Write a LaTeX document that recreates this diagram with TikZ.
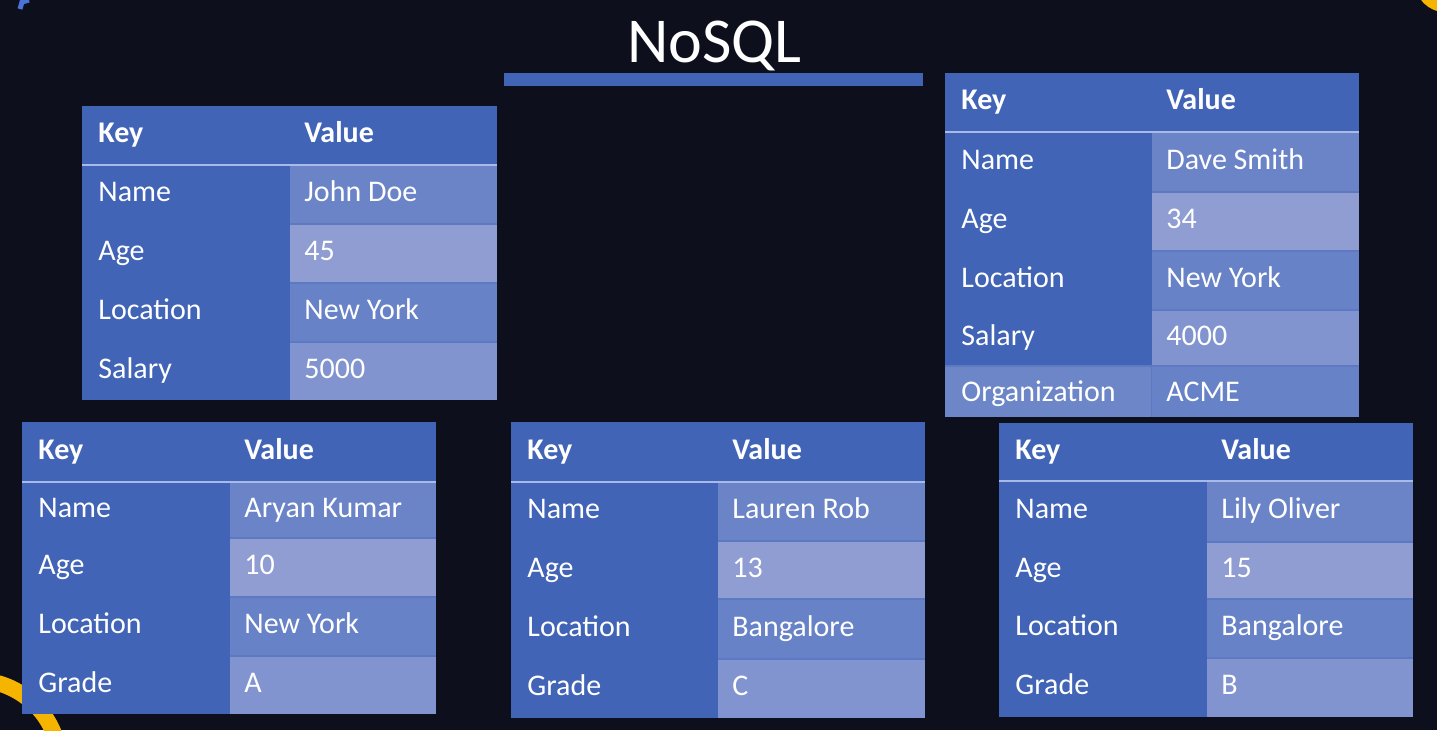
\documentclass[tikz,border=0pt]{standalone}
\usepackage{fontspec}
\setmainfont{Carlito}
\definecolor{bgc}{HTML}{0D0F1C}
\definecolor{hdrc}{HTML}{4264B6}
\definecolor{keyc}{HTML}{4164B6}
\definecolor{valA}{HTML}{6B84C8}
\definecolor{valB}{HTML}{8F9DD3}
\definecolor{valC}{HTML}{6882C7}
\definecolor{valD}{HTML}{8194CF}
\definecolor{orgk}{HTML}{6D86C8}
\definecolor{hlinec}{HTML}{A8BBE8}
\definecolor{sepc}{HTML}{5C79C1}
\definecolor{yel}{HTML}{F4B400}
\definecolor{markc}{HTML}{4A72D8}
\tikzset{
  celltext/.style={anchor=base west, inner sep=0pt, text=white, font=\fontsize{15}{18}\selectfont},
  hdtext/.style={celltext, font=\fontsize{15}{18}\selectfont\bfseries},
  titletext/.style={anchor=base, inner sep=0pt, text=white, font=\fontsize{32}{38}\selectfont},
  hline/.style={draw=hlinec, line width=1.3pt},
  sepline/.style={draw=sepc, line width=0.6pt}
}
\def\kvdy{7}
% #1 name, #2 x0, #3 xs, #4 x1, #5 ytop, #6 yhead-bottom, #7 ybottom
\newcommand\kvframe[7]{%
  \fill[hdrc] (#2,#5) rectangle (#4,#6);
  \fill[keyc] (#2,#6) rectangle (#3,#7);
  \node[hdtext] (#1hk) at ({#2+16},{(#5+#6)/2+7}) {Key};
  \node[hdtext] (#1hv) at ({#3+14},{(#5+#6)/2+7}) {Value};
}
% #1 name, #2 x0, #3 xs, #4 x1, #5 ytop, #6 ybot, #7 key, #8 value, #9 fill
\newcommand\kvrow[9]{%
  \fill[#9] (#3,#5) rectangle (#4,#6);
  \draw[sepline] (#3,#5) -- (#4,#5);
  \node[celltext] (#1k) at ({#2+16},{(#5+#6)/2+\kvdy}) {#7};
  \node[celltext] (#1v) at ({#3+14},{(#5+#6)/2+\kvdy}) {#8};
}
\begin{document}
\begin{tikzpicture}[x=0.5pt,y=-0.5pt]
\fill[bgc] (0,0) rectangle (1437,730);
\useasboundingbox (0,0) rectangle (1437,730);
% corner decorations
\draw[yel, line width=8pt] (-25,765) circle (85);
\fill[yel] (1445,-18) circle (30);
\draw[markc, line width=2.5pt] (20,9) -- (22,2) -- (29,0);
% title
\node[titletext] (ttl) at (714.5,62) {NoSQL};
\fill[hdrc] (504,73) rectangle (923,86);

% table 1
\kvframe{a}{82}{290}{497}{106}{165}{400}
\kvrow{a1}{82}{290}{497}{165}{224}{Name}{John Doe}{valA}
\kvrow{a2}{82}{290}{497}{224}{283}{Age}{45}{valB}
\kvrow{a3}{82}{290}{497}{283}{342}{Location}{New York}{valC}
\kvrow{a4}{82}{290}{497}{342}{400}{Salary}{5000}{valD}
\draw[hline] (82,165) -- (497,165);

% table 2
\kvframe{b}{945}{1152}{1359}{73}{132}{417}
\kvrow{b1}{945}{1152}{1359}{132}{192}{Name}{Dave Smith}{valA}
\kvrow{b2}{945}{1152}{1359}{192}{251}{Age}{34}{valB}
\kvrow{b3}{945}{1152}{1359}{251}{310}{Location}{New York}{valC}
\kvrow{b4}{945}{1152}{1359}{310}{366}{Salary}{4000}{valD}
\fill[orgk] (945,366) rectangle (1152,417);
\draw[sepline] (945,366) -- (1152,366);
\draw[sepline] (1152,366) -- (1152,417);
\def\kvdy{10}
\kvrow{b5}{945}{1152}{1359}{366}{417}{Organization}{ACME}{valC}
\def\kvdy{7}
\draw[hline] (945,132) -- (1359,132);

% table 3
\kvframe{c}{22}{230}{436}{422}{482}{714}
\kvrow{c1}{22}{230}{436}{482}{538}{Name}{Aryan Kumar}{valA}
\kvrow{c2}{22}{230}{436}{538}{597}{Age}{10}{valB}
\kvrow{c3}{22}{230}{436}{597}{656}{Location}{New York}{valC}
\kvrow{c4}{22}{230}{436}{656}{714}{Grade}{A}{valD}
\draw[hline] (22,482) -- (436,482);

% table 4
\kvframe{d}{511}{718}{925}{422}{482}{718}
\kvrow{d1}{511}{718}{925}{482}{541}{Name}{Lauren Rob}{valA}
\kvrow{d2}{511}{718}{925}{541}{599}{Age}{13}{valB}
\kvrow{d3}{511}{718}{925}{599}{659}{Location}{Bangalore}{valC}
\kvrow{d4}{511}{718}{925}{659}{718}{Grade}{C}{valD}
\draw[hline] (511,482) -- (925,482);

% table 5
\kvframe{e}{999}{1207}{1413}{423}{481}{717}
\kvrow{e1}{999}{1207}{1413}{481}{542}{Name}{Lily Oliver}{valA}
\kvrow{e2}{999}{1207}{1413}{542}{599}{Age}{15}{valB}
\kvrow{e3}{999}{1207}{1413}{599}{658}{Location}{Bangalore}{valC}
\kvrow{e4}{999}{1207}{1413}{658}{717}{Grade}{B}{valD}
\draw[hline] (999,481) -- (1413,481);
\end{tikzpicture}
\end{document}
